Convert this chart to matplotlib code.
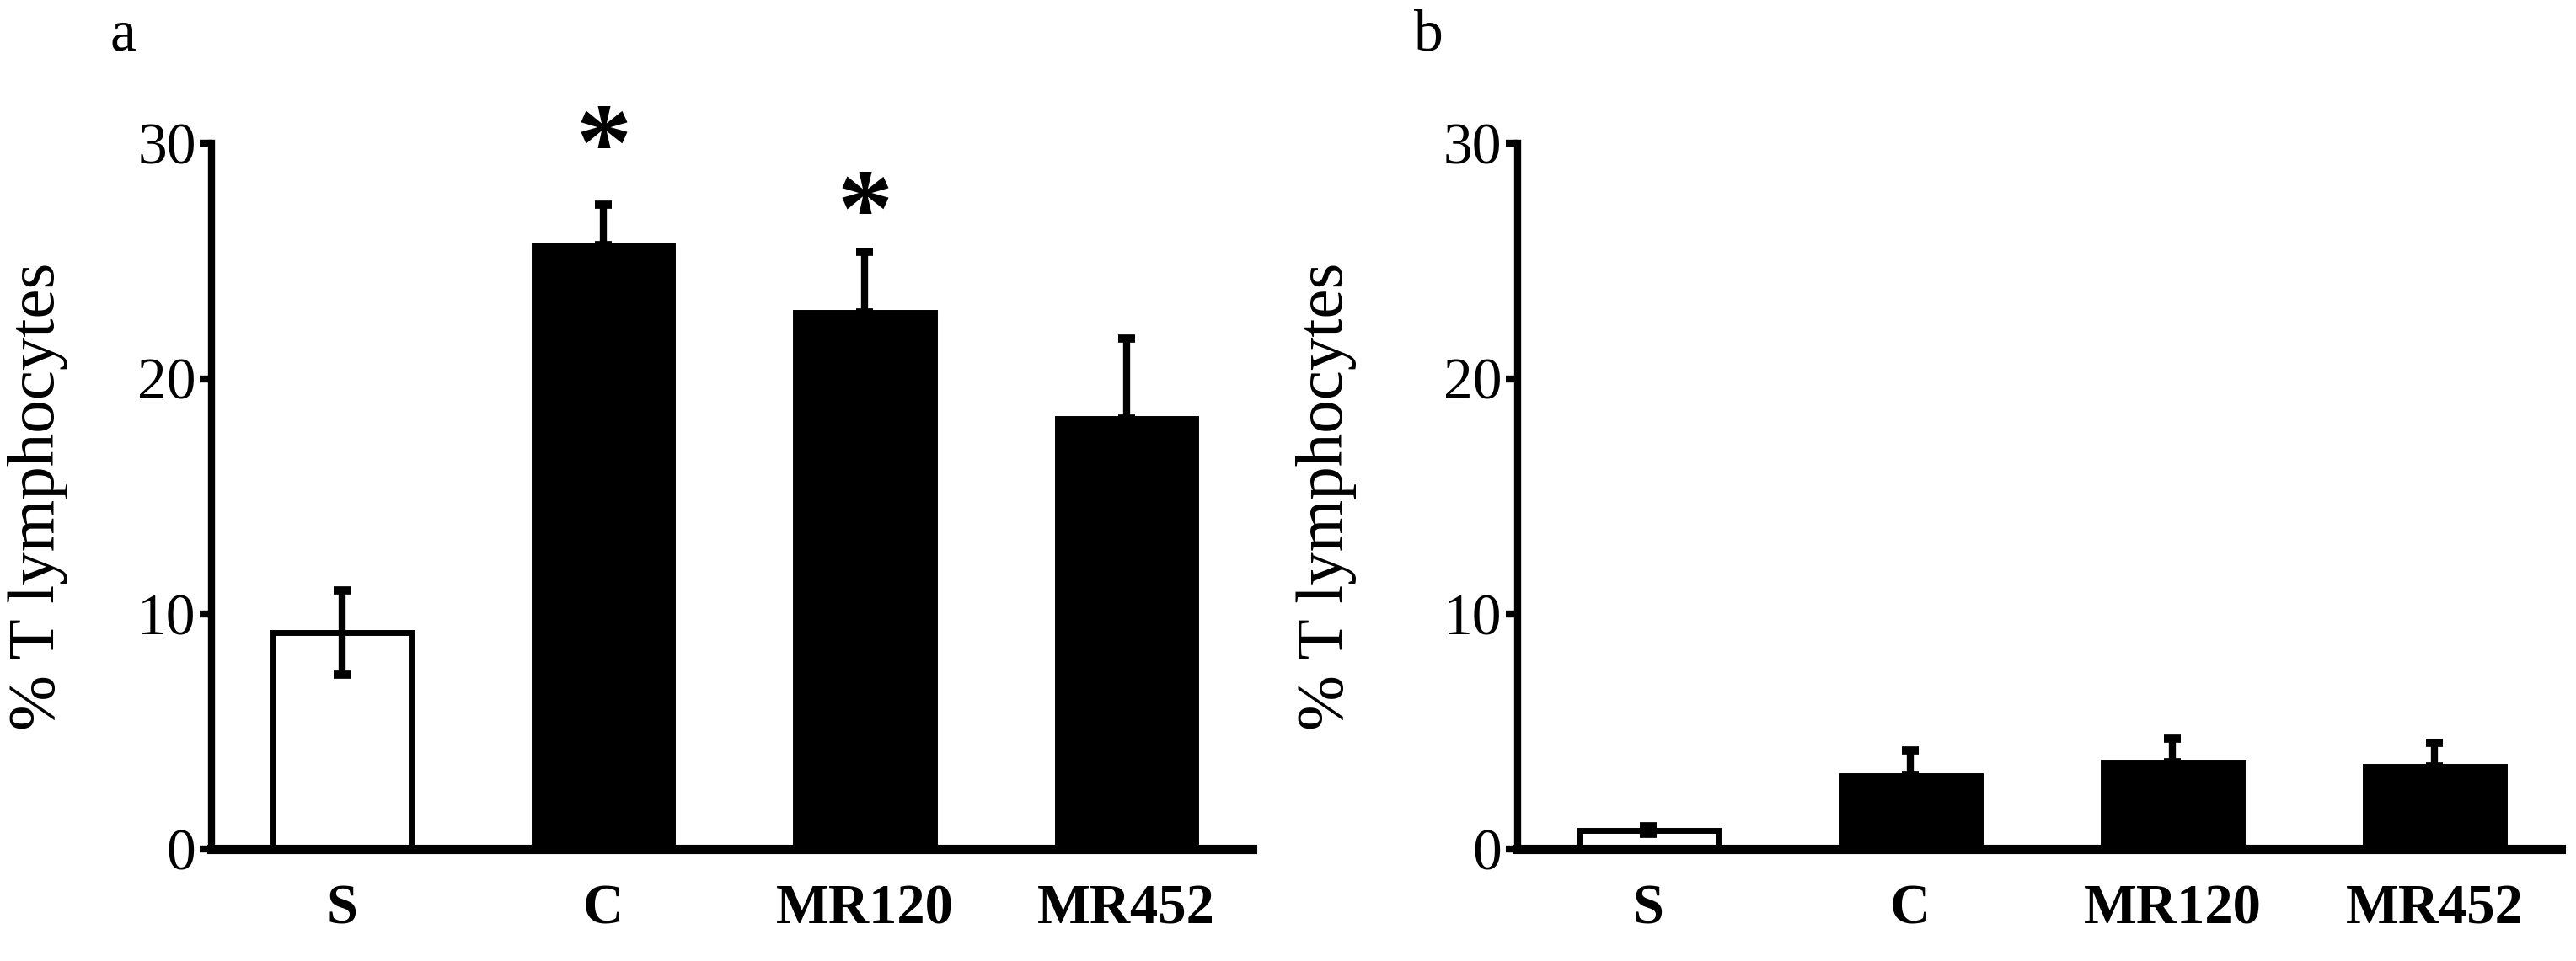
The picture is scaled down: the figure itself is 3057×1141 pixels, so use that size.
import numpy as np
import matplotlib
matplotlib.use("Agg")
import matplotlib.pyplot as plt

# ==========================
# Data
# ==========================
groups = ["S", "C", "MR120", "MR452"]

vals_a = [9.2, 25.7, 22.8, 18.3]
err_a = [1.8, 1.7, 2.6, 3.4]
# significance marks (group index, height of the star)
star_groups = [1, 2]
star_y = [29.6, 26.8]

vals_b = [0.8, 3.1, 3.7, 3.5]
err_b = [0.15, 1.1, 1.0, 1.0]

bar_colors = ["white", "black", "black", "black"]

plt.rcParams["font.family"] = ["Liberation Serif", "DejaVu Serif"]

fig = plt.figure(figsize=(30.57, 11.41), dpi=100)

ax_a = fig.add_axes([0.082, 0.1166, 0.404, 0.734])
ax_b = fig.add_axes([0.589, 0.1166, 0.405, 0.734])


def draw_panel(ax, vals, errs, letter, label_x):
    x = np.arange(len(groups))
    ax.bar(x, vals, width=0.53, color=bar_colors, edgecolor="black",
           linewidth=5, zorder=2)
    # S gets two-sided error bar, treated groups only upward
    lower = [errs[0], 0, 0, 0]
    ax.errorbar(x, vals, yerr=[lower, errs], fmt="none", ecolor="black",
                elinewidth=6, capsize=7, capthick=7, zorder=3)
    ax.set_xlim(-0.5, 3.48)
    ax.set_ylim(0, 30)
    ax.set_yticks([0, 10, 20, 30])
    ax.tick_params(axis="y", labelsize=50, width=6, length=10, direction="out", pad=3)
    ax.tick_params(axis="x", length=0, labelsize=48, pad=30)
    ax.set_xticks(x)
    ax.set_xticklabels(groups, fontweight="bold")
    for s in ["top", "right"]:
        ax.spines[s].set_visible(False)
    ax.spines["left"].set_linewidth(6)
    ax.spines["bottom"].set_linewidth(8)
    ax.set_ylabel("% T lymphocytes", fontsize=57)
    ax.yaxis.set_label_coords(label_x, 0.5)
    ax.text(-0.085, 1.152, letter, transform=ax.transAxes, fontsize=50,
            ha="center", va="center")
    return x


xa = draw_panel(ax_a, vals_a, err_a, "a", -0.137)
for g, y in zip(star_groups, star_y):
    ax_a.text(xa[g], y, "*", fontsize=95, fontweight="bold",
              ha="center", va="center", clip_on=False)

draw_panel(ax_b, vals_b, err_b, "b", -0.154)

fig.savefig("out.png", dpi=100)
